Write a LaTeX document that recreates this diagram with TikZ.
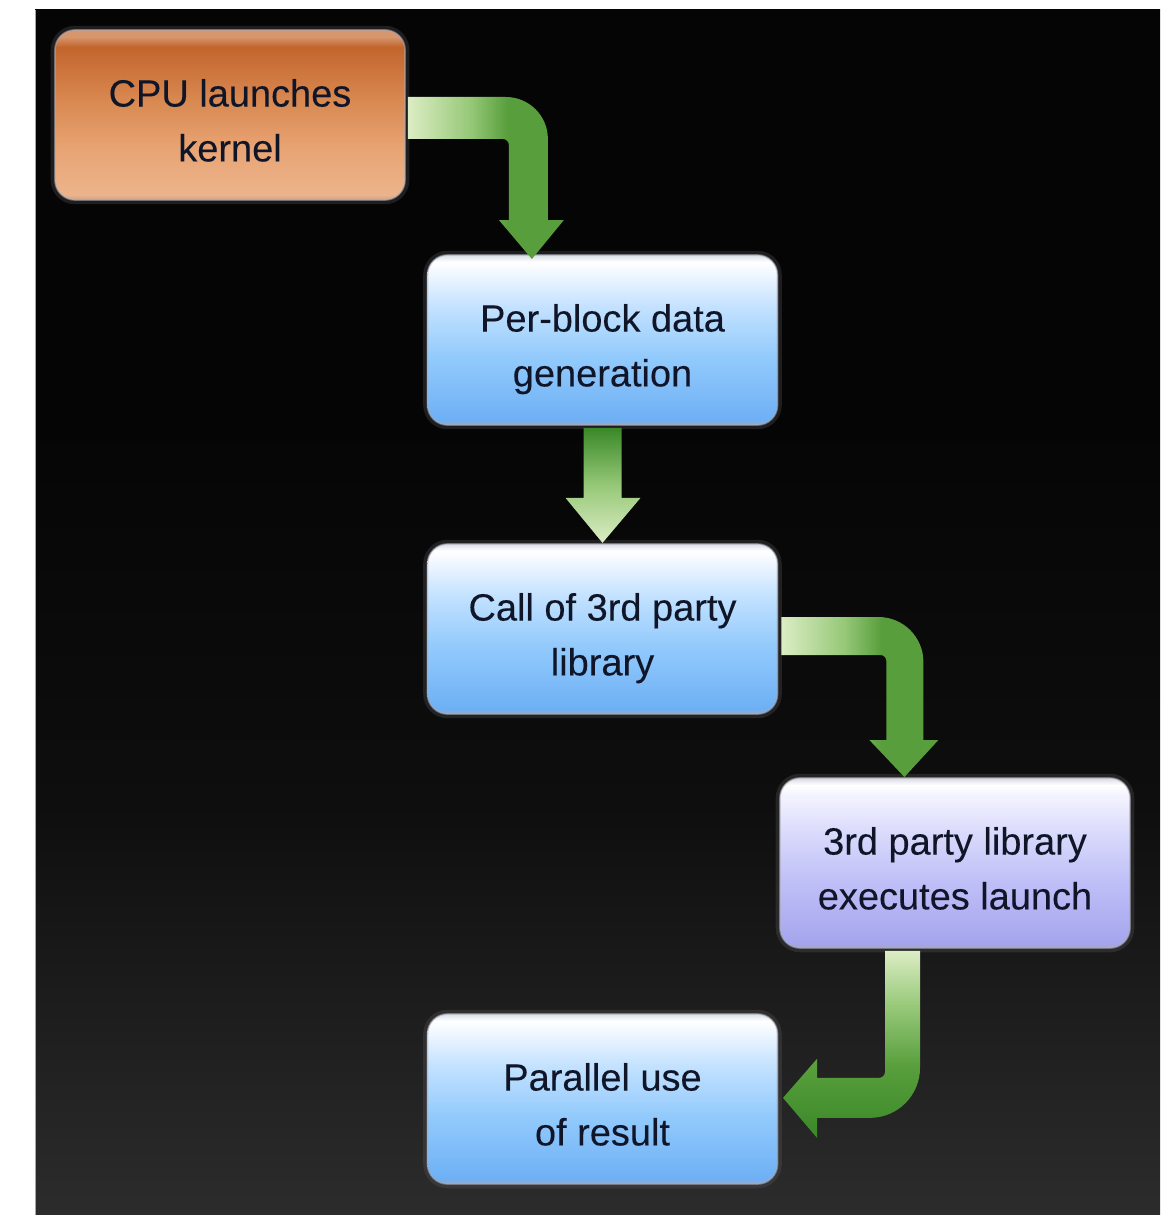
\documentclass[tikz,border=0pt]{standalone}
\usepackage{fontspec}
\setmainfont[FakeBold=0.6]{Liberation Sans}

% colours
\definecolor{bgtop}{RGB}{5,5,5}
\definecolor{bgmid}{RGB}{14,14,14}
\definecolor{bgbot}{RGB}{44,44,44}
\definecolor{boxtext}{RGB}{16,22,40}
\definecolor{rimgray}{RGB}{170,170,178}
\definecolor{haze}{RGB}{90,90,95}
\definecolor{gpale}{RGB}{220,237,196}
\definecolor{gmid}{RGB}{150,200,120}
\definecolor{ggreen}{RGB}{88,158,60}
\definecolor{gdark}{RGB}{58,136,40}
% orange box
\definecolor{orA}{RGB}{200,160,135}
\definecolor{orB}{RGB}{236,180,140}
\definecolor{orC}{RGB}{232,164,116}
\definecolor{orD}{RGB}{216,135,79}
\definecolor{orE}{RGB}{194,101,45}
\definecolor{orF}{RGB}{214,150,110}
% blue boxes
\definecolor{blA}{RGB}{150,170,200}
\definecolor{blB}{RGB}{110,176,245}
\definecolor{blC}{RGB}{146,202,252}
\definecolor{blD}{RGB}{196,226,255}
\definecolor{blE}{RGB}{242,248,255}
\definecolor{blF}{RGB}{215,222,232}
% lavender box
\definecolor{lvA}{RGB}{165,165,200}
\definecolor{lvB}{RGB}{165,165,238}
\definecolor{lvC}{RGB}{192,192,248}
\definecolor{lvD}{RGB}{220,220,252}
\definecolor{lvE}{RGB}{244,244,255}
\definecolor{lvF}{RGB}{215,215,228}

% shadings
\pgfdeclareverticalshading{bgfade}{100bp}{color(0bp)=(bgbot); color(25bp)=(bgbot);
  color(42bp)=(bgmid); color(58bp)=(bgtop); color(75bp)=(bgtop); color(100bp)=(bgtop)}
\pgfdeclareverticalshading{cpufill}{100bp}{color(0bp)=(orA); color(25bp)=(orA);
  color(26.5bp)=(orB); color(40bp)=(orC); color(55bp)=(orD); color(70bp)=(orE);
  color(73bp)=(orF); color(75bp)=(orF); color(100bp)=(orF)}
\pgfdeclareverticalshading{bluefill}{100bp}{color(0bp)=(blA); color(25bp)=(blA);
  color(26.5bp)=(blB); color(45bp)=(blC); color(60bp)=(blD); color(70bp)=(blE);
  color(73bp)=(white); color(75bp)=(blF); color(100bp)=(blF)}
\pgfdeclareverticalshading{lavfill}{100bp}{color(0bp)=(lvA); color(25bp)=(lvA);
  color(26.5bp)=(lvB); color(45bp)=(lvC); color(60bp)=(lvD); color(70bp)=(lvE);
  color(73bp)=(white); color(75bp)=(lvF); color(100bp)=(lvF)}
\pgfdeclarehorizontalshading{greenright}{100bp}{color(0bp)=(gpale); color(25bp)=(gpale);
  color(45bp)=(gmid); color(57bp)=(ggreen); color(75bp)=(ggreen); color(100bp)=(ggreen)}
\pgfdeclareverticalshading{greenfade}{100bp}{color(0bp)=(gpale); color(25bp)=(gpale);
  color(50bp)=(gmid); color(75bp)=(gdark); color(100bp)=(gdark)}
\pgfdeclareverticalshading{greenrise}{100bp}{color(0bp)=(gdark); color(25bp)=(gdark);
  color(44bp)=(ggreen); color(60bp)=(gmid); color(75bp)=(gpale); color(100bp)=(gpale)}

% struts that give every two-line label the same height and depth
\newcommand\firstln{\rule{0pt}{34pt}}
\newcommand\lastln{\rule[-7pt]{0pt}{7pt}}

\begin{document}
\begin{tikzpicture}[x=0.025cm,y=-0.025cm,
  box/.style={shade, rounded corners=0.5cm, minimum width=8.75cm, minimum height=4.25cm,
    inner sep=0pt, align=center, text=boxtext, font=\fontsize{27}{39}\selectfont,
    draw=rimgray, draw opacity=0.55, line width=1.2pt,
    preaction={draw=haze, line width=6pt, draw opacity=0.3}},
  cpubox/.style={box, shading=cpufill},
  bluebox/.style={box, shading=bluefill},
  lavbox/.style={box, shading=lavfill}]

% page and dark backdrop
\useasboundingbox (0,0) rectangle (1160,1215);
\fill[white] (0,0) rectangle (1160,1215);
\shade[shading=bgfade] (35,10) rectangle (1160,1215);
\draw[gray!70, line width=0.6pt] (35.5,10) -- (35.5,1215);

% steps
\node[cpubox]  (cpu)      at (230,115)   {\firstln CPU launches\\kernel\lastln};
\node[bluebox] (perblock) at (602.5,340) {\firstln Per-block data\\generation\lastln};
\node[bluebox] (call)     at (602.5,629) {\firstln Call of 3rd party\\library\lastln};
\node[lavbox]  (lib)      at (955,863)   {\firstln 3rd party library\\executes launch\lastln};
\node[bluebox] (parallel) at (602.5,1099){\firstln Parallel use\\of result\lastln};

% block arrows, each drawn from its source node
\begin{scope}[shift={(cpu.east)}]
  \shade[shading=greenright] (2,-18) -- (100,-18)
    .. controls (123.2,-18) and (142,0.8) .. (142,24) -- (142,105) -- (158,105)
    -- (126,144) -- (93,105) -- (103,105) -- (103,30)
    .. controls (103,26.7) and (100.3,24) .. (97,24) -- (2,24) -- cycle;
\end{scope}

\begin{scope}[shift={(perblock.south)}]
  \shade[shading=greenfade] (-19,2) -- (19,2) -- (19,72) -- (38,72)
    -- (0,117) -- (-37,72) -- (-19,72) -- cycle;
\end{scope}

\begin{scope}[shift={(call.east)}]
  \shade[shading=greenright] (3,-12) -- (100,-12)
    .. controls (124.9,-12) and (145,8.1) .. (145,33) -- (145,111) -- (160,111)
    -- (126,148) -- (91,111) -- (108,111) -- (108,32)
    .. controls (108,28.7) and (105.3,26) .. (102,26) -- (3,26) -- cycle;
\end{scope}

\begin{scope}[shift={(lib.south)}]
  \shade[shading=greenrise] (-70,2) -- (-35,2) -- (-35,119)
    .. controls (-35,146.6) and (-57.4,169) .. (-85,169) -- (-138,169) -- (-138,189)
    -- (-172,149) -- (-138,110) -- (-138,129) -- (-76,129)
    .. controls (-72.7,129) and (-70,126.3) .. (-70,123) -- cycle;
\end{scope}

\end{tikzpicture}
\end{document}
